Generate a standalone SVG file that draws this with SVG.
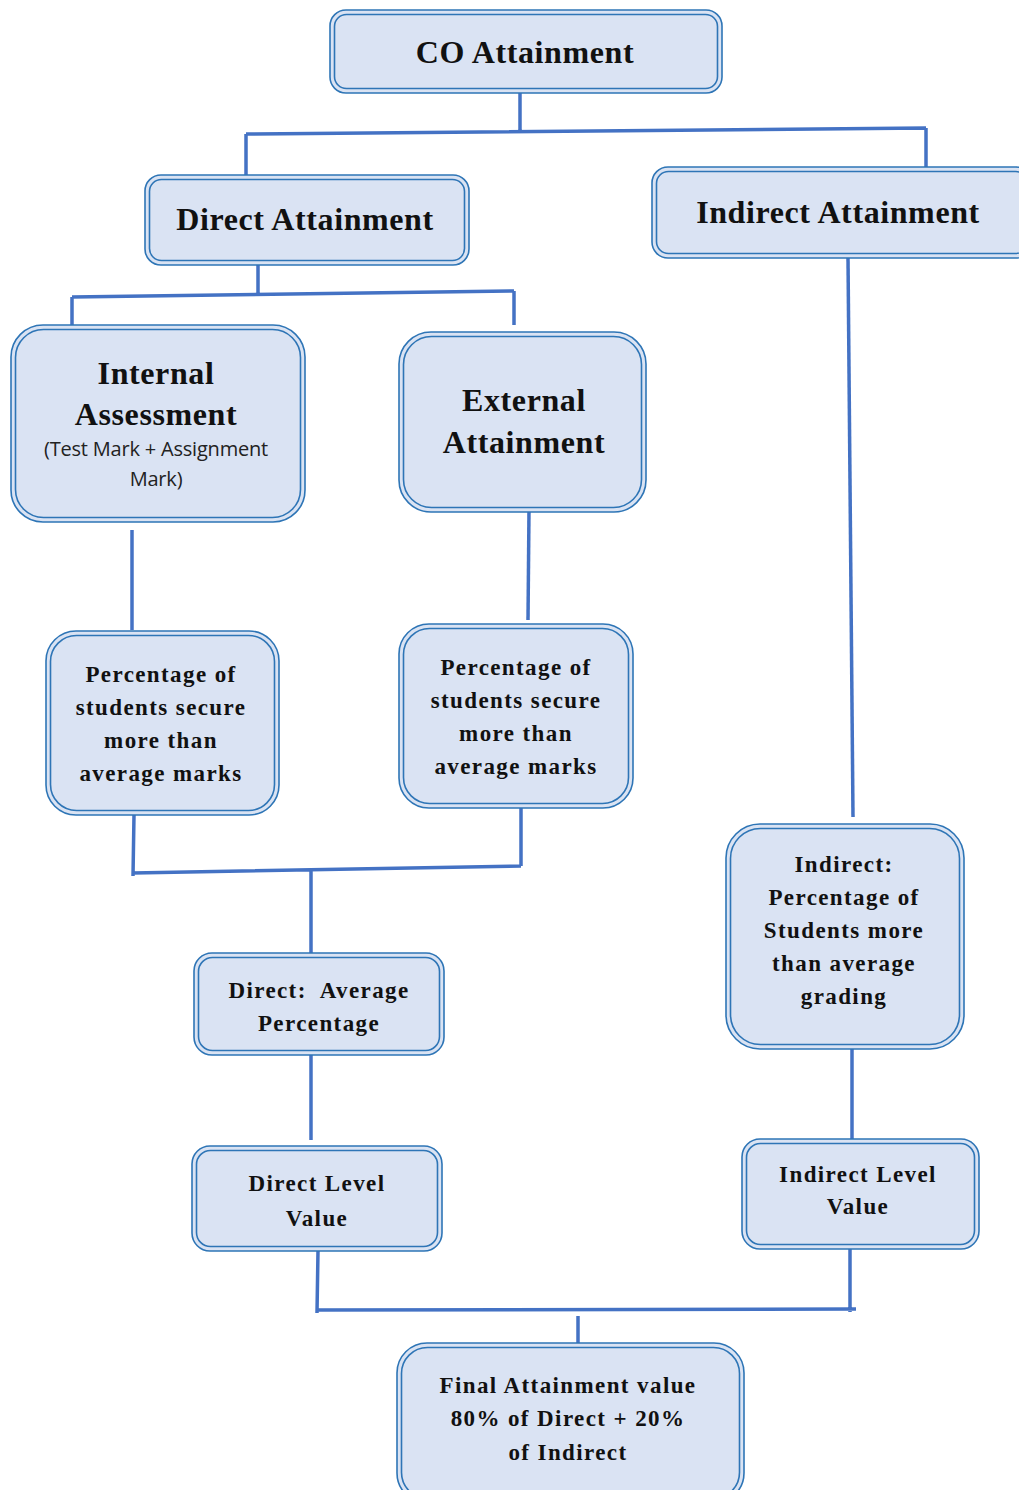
<svg xmlns="http://www.w3.org/2000/svg" width="1019" height="1490" viewBox="0 0 1019 1490">
<style>
.o{fill:#dae3f3;stroke:#2e75b6;stroke-width:1.6}
.i{fill:none;stroke:#2e75b6;stroke-width:1.6}
.t{font-family:'Liberation Serif','DejaVu Serif',serif;font-weight:bold;fill:#111;text-anchor:middle}
.h{font-size:32px;letter-spacing:0.6px}
.m{font-size:23px;letter-spacing:1.4px}
.s{font-family:'Open Sans','Liberation Sans',sans-serif;font-size:20px;fill:#222;text-anchor:middle;letter-spacing:-0.2px}
.c{fill:none;stroke:#4472c4;stroke-width:3.5}
</style>
<rect width="1019" height="1490" fill="#fff"/>
<g id="connectors">
<path class="c" d="M520 93V131M246 134L926 128M246 134V176M926 128V170"/>
<path class="c" d="M258 265V294M72 297L514 291M72 297V328M514 291V325"/>
<path class="c" d="M132 530V630"/>
<path class="c" d="M529 510L528 620"/>
<path class="c" d="M848 258L853 817"/>
<path class="c" d="M134 815L133 876M133 873L521 866M521 808V866M311 869V953"/>
<path class="c" d="M311 1055V1140"/>
<path class="c" d="M852 1049V1139"/>
<path class="c" d="M318 1251L317 1313M317 1310L856 1309M850 1249V1312M578 1316V1343"/>
</g>
<g id="co">
<rect class="o" x="330" y="10" width="392" height="83" rx="16"/>
<rect class="i" x="334.5" y="14.5" width="383" height="74" rx="12"/>
<text class="t h" x="525" y="63">CO Attainment</text>
</g>
<g id="direct">
<rect class="o" x="145" y="175" width="324" height="90" rx="16"/>
<rect class="i" x="149.5" y="179.5" width="315" height="81" rx="12"/>
<text class="t h" x="305" y="230">Direct Attainment</text>
</g>
<g id="indirect">
<rect class="o" x="652" y="167" width="380" height="91" rx="16"/>
<rect class="i" x="656.5" y="171.5" width="371" height="82" rx="12"/>
<text class="t h" x="838" y="223">Indirect Attainment</text>
</g>
<g id="internal">
<rect class="o" x="11" y="325" width="294" height="197" rx="32"/>
<rect class="i" x="15.5" y="329.5" width="285" height="188" rx="28"/>
<text class="t h" x="156" y="384">Internal</text>
<text class="t h" x="156" y="425">Assessment</text>
<text class="s" x="156" y="456">(Test Mark + Assignment</text>
<text class="s" x="156" y="486">Mark)</text>
</g>
<g id="external">
<rect class="o" x="399" y="332" width="247" height="180" rx="32"/>
<rect class="i" x="403.5" y="336.5" width="238" height="171" rx="28"/>
<text class="t h" x="524" y="411">External</text>
<text class="t h" x="524" y="453">Attainment</text>
</g>
<g id="pct1">
<rect class="o" x="46" y="631" width="233" height="184" rx="30"/>
<rect class="i" x="50.5" y="635.5" width="224" height="175" rx="26"/>
<text class="t m" x="161" y="682">Percentage of</text>
<text class="t m" x="161" y="715">students secure</text>
<text class="t m" x="161" y="748">more than</text>
<text class="t m" x="161" y="781">average marks</text>
</g>
<g id="pct2">
<rect class="o" x="399" y="624" width="234" height="184" rx="30"/>
<rect class="i" x="403.5" y="628.5" width="225" height="175" rx="26"/>
<text class="t m" x="516" y="675">Percentage of</text>
<text class="t m" x="516" y="708">students secure</text>
<text class="t m" x="516" y="741">more than</text>
<text class="t m" x="516" y="774">average marks</text>
</g>
<g id="indirect-pct">
<rect class="o" x="726" y="824" width="238" height="225" rx="34"/>
<rect class="i" x="730.5" y="828.5" width="229" height="216" rx="30"/>
<text class="t m" x="844" y="872">Indirect:</text>
<text class="t m" x="844" y="905">Percentage of</text>
<text class="t m" x="844" y="938">Students more</text>
<text class="t m" x="844" y="971">than average</text>
<text class="t m" x="844" y="1004">grading</text>
</g>
<g id="direct-avg">
<rect class="o" x="194" y="953" width="250" height="102" rx="18"/>
<rect class="i" x="198.5" y="957.5" width="241" height="93" rx="14"/>
<text class="t m" x="319" y="998" xml:space="preserve">Direct:  Average</text>
<text class="t m" x="319" y="1031">Percentage</text>
</g>
<g id="direct-level">
<rect class="o" x="192" y="1146" width="250" height="105" rx="18"/>
<rect class="i" x="196.5" y="1150.5" width="241" height="96" rx="14"/>
<text class="t m" x="317" y="1191">Direct Level</text>
<text class="t m" x="317" y="1226">Value</text>
</g>
<g id="indirect-level">
<rect class="o" x="742" y="1139" width="237" height="110" rx="18"/>
<rect class="i" x="746.5" y="1143.5" width="228" height="101" rx="14"/>
<text class="t m" x="858" y="1182">Indirect Level</text>
<text class="t m" x="858" y="1214">Value</text>
</g>
<g id="final">
<rect class="o" x="397" y="1343" width="347" height="160" rx="30"/>
<rect class="i" x="401.5" y="1347.5" width="338" height="151" rx="26"/>
<text class="t m" x="568" y="1393">Final Attainment value</text>
<text class="t m" x="568" y="1426">80% of Direct + 20%</text>
<text class="t m" x="568" y="1460">of Indirect</text>
</g>
</svg>
